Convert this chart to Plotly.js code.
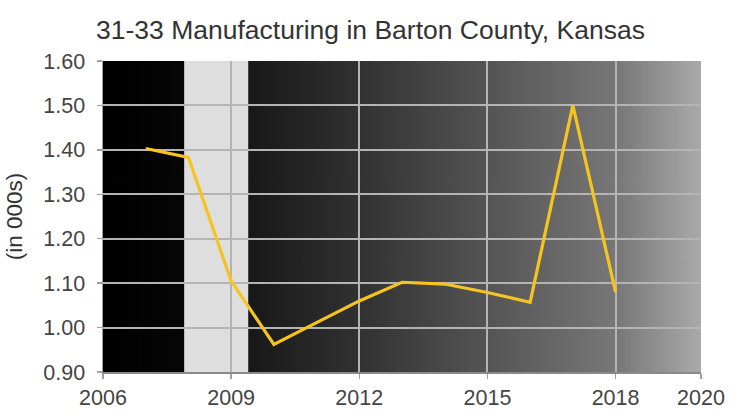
<!DOCTYPE html>
<html>
<head>
<meta charset="utf-8">
<script src="https://cdn.plot.ly/plotly-3.0.1.min.js"></script>
<style>html,body{margin:0;padding:0;background:#fff;}#chart{width:741px;height:416px;}</style>
</head>
<body>
<div id="chart"></div>
<script>
// Data
const years = [2007, 2008, 2009, 2010, 2011, 2012, 2013, 2014, 2015, 2016, 2017, 2018];
const employment = [1.403, 1.383, 1.105, 0.962, 1.011, 1.060, 1.102, 1.098, 1.079, 1.057, 1.500, 1.080];
const xTicks = [2006, 2009, 2012, 2015, 2018, 2020];
const yTicks = [0.9, 1.0, 1.1, 1.2, 1.3, 1.4, 1.5, 1.6];
const recessionStart = 2007.9;
const recessionEnd = 2009.4;

// Background gradient (style): stops as [fraction of width, gray level]
const gradStops = [[0, 0], [0.135, 6], [0.245, 24], [0.43, 50], [0.64, 84], [0.86, 120], [1, 170]];
const cv = document.createElement('canvas');
cv.width = 700; cv.height = 4;
const ctx = cv.getContext('2d');
const g = ctx.createLinearGradient(0, 0, cv.width, 0);
gradStops.forEach(s => g.addColorStop(s[0], `rgb(${s[1]},${s[1]},${s[1]})`));
ctx.fillStyle = g; ctx.fillRect(0, 0, cv.width, cv.height);
const bgURL = cv.toDataURL('image/png');

const font = "Arial, 'Liberation Sans', sans-serif";

const trace = {
  x: years, y: employment, type: 'scatter', mode: 'lines',
  line: {color: '#f6c420', width: 3.2},
  hoverinfo: 'skip'
};

const layout = {
  width: 741, height: 416,
  margin: {l: 103, r: 40, t: 61, b: 44},
  paper_bgcolor: '#ffffff', plot_bgcolor: '#000000',
  showlegend: false,
  font: {family: font, color: '#444', size: 21.5},
  title: {text: '31-33 Manufacturing in Barton County, Kansas', font: {family: font, size: 26.5, color: '#333'},
          xref: 'container', x: 0.5, xanchor: 'center', yref: 'container', y: 1 - 30/416, yanchor: 'middle'},
  xaxis: {range: [2006, 2020], tickvals: xTicks, ticktext: xTicks.map(String),
          showgrid: true, gridcolor: '#b4b4b4', gridwidth: 2,
          showline: true, linecolor: '#8a8a8a', linewidth: 2,
          ticks: 'outside', ticklen: 5, tickcolor: '#a0a0a0', tickwidth: 1.5,
          zeroline: false, tickfont: {size: 21.5, color: '#444'}},
  yaxis: {range: [0.9, 1.6], tickvals: yTicks, ticktext: yTicks.map(v => v.toFixed(2)),
          showgrid: true, gridcolor: '#b4b4b4', gridwidth: 2,
          showline: true, linecolor: '#a0a0a0', linewidth: 1.5,
          ticks: 'outside', ticklen: 5, tickcolor: '#a0a0a0', tickwidth: 1.5,
          ticklabelstandoff: 7,
          zeroline: false, tickfont: {size: 21.5, color: '#444'},
          title: {text: '(in 000s)', font: {size: 22.5, color: '#333'}, standoff: 14}},
  images: [{source: bgURL, xref: 'x', yref: 'paper', x: 2006, y: 1, sizex: 14, sizey: 1,
            sizing: 'stretch', xanchor: 'left', yanchor: 'top', layer: 'below'}],
  shapes: [{type: 'rect', xref: 'x', yref: 'paper', x0: recessionStart, x1: recessionEnd, y0: 0, y1: 1,
            fillcolor: '#dedede', line: {width: 0}, layer: 'below'}]
};

Plotly.newPlot('chart', [trace], layout, {displayModeBar: false, staticPlot: true});
</script>
</body>
</html>
